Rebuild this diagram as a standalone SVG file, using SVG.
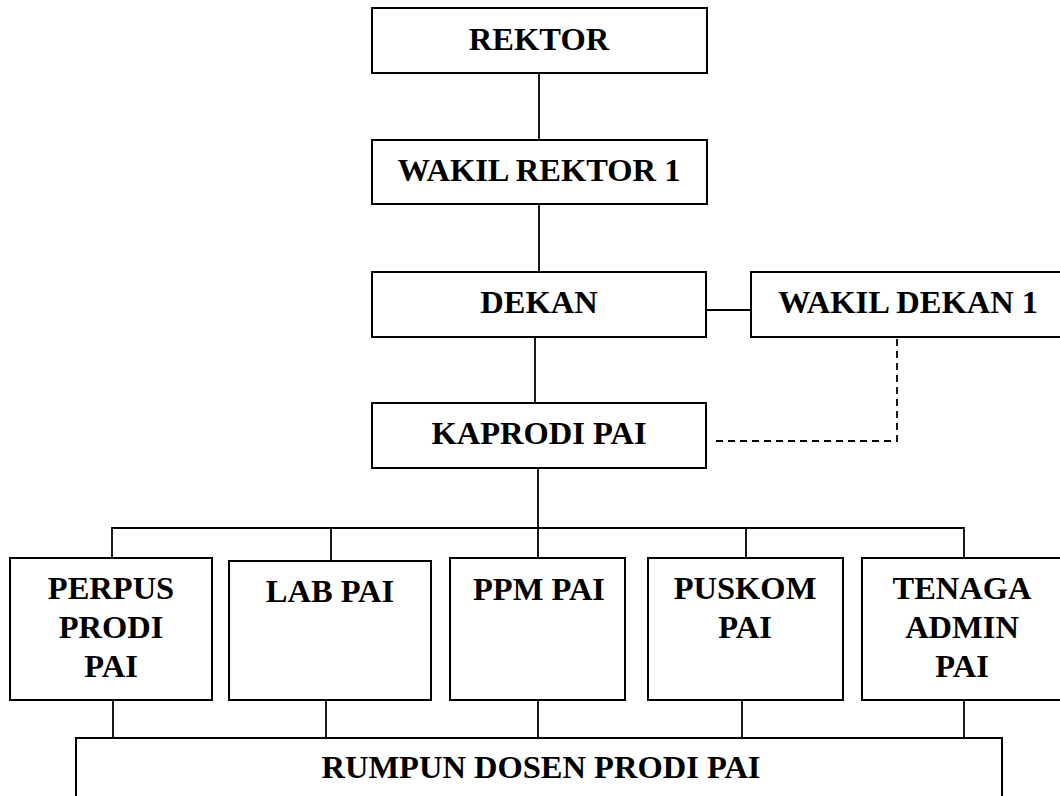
<svg xmlns="http://www.w3.org/2000/svg" width="1060" height="796" viewBox="0 0 1060 796">
<style>
.box{fill:#fff;stroke:#000;stroke-width:2}
.t{font-family:"Liberation Serif","Times New Roman",serif;font-weight:bold;font-size:32.5px;fill:#000;text-anchor:middle}
.c{fill:none;stroke:#000;stroke-width:1.8}
.d{fill:none;stroke:#000;stroke-width:1.8;stroke-dasharray:7,5}
</style>
<rect width="1060" height="796" fill="#fff"/>
<g id="connectors">
<line class="c" x1="539" y1="73" x2="539" y2="140"/>
<line class="c" x1="539" y1="204" x2="539" y2="272"/>
<line class="c" x1="706" y1="310" x2="751" y2="310"/>
<line class="c" x1="535" y1="337" x2="535" y2="403"/>
<polyline class="d" points="897,339 897,441 713,441"/>
<line class="d" x1="903" y1="337" x2="927" y2="337"/>
<line class="c" x1="538" y1="468" x2="538" y2="558"/>
<polyline class="c" points="112,558 112,528 964,528 964,558"/>
<line class="c" x1="331" y1="528" x2="331" y2="561"/>
<line class="c" x1="746" y1="528" x2="746" y2="558"/>
<line class="c" x1="113" y1="700" x2="113" y2="738"/>
<line class="c" x1="326" y1="700" x2="326" y2="738"/>
<line class="c" x1="538" y1="700" x2="538" y2="738"/>
<line class="c" x1="742" y1="700" x2="742" y2="738"/>
<line class="c" x1="964" y1="700" x2="964" y2="738"/>
</g>
<g id="rektor"><rect class="box" x="372" y="8" width="335" height="65"/><text class="t" x="539" y="50">REKTOR</text></g>
<g id="wakil-rektor-1"><rect class="box" x="372" y="140" width="335" height="64"/><text class="t" x="539" y="181">WAKIL REKTOR 1</text></g>
<g id="dekan"><rect class="box" x="372" y="272" width="334" height="65"/><text class="t" x="539" y="313">DEKAN</text></g>
<g id="wakil-dekan-1"><rect class="box" x="751" y="272" width="315" height="65"/><text class="t" x="908" y="313">WAKIL DEKAN 1</text></g>
<g id="kaprodi-pai"><rect class="box" x="372" y="403" width="334" height="65"/><text class="t" x="539" y="444">KAPRODI PAI</text></g>
<g id="perpus"><rect class="box" x="10" y="558" width="202" height="142"/><text class="t" x="111" y="599">PERPUS</text><text class="t" x="111" y="638">PRODI</text><text class="t" x="111" y="677">PAI</text></g>
<g id="lab-pai"><rect class="box" x="229" y="561" width="202" height="139"/><text class="t" x="330" y="602">LAB PAI</text></g>
<g id="ppm-pai"><rect class="box" x="450" y="558" width="175" height="142"/><text class="t" x="539" y="600">PPM PAI</text></g>
<g id="puskom-pai"><rect class="box" x="648" y="558" width="195" height="142"/><text class="t" x="745" y="599">PUSKOM</text><text class="t" x="745" y="638">PAI</text></g>
<g id="tenaga-admin-pai"><rect class="box" x="862" y="558" width="210" height="142"/><text class="t" x="962" y="599">TENAGA</text><text class="t" x="962" y="638">ADMIN</text><text class="t" x="962" y="677">PAI</text></g>
<g id="rumpun-dosen"><rect class="box" x="76" y="738" width="926" height="80"/><text class="t" x="541" y="778">RUMPUN DOSEN PRODI PAI</text></g>
</svg>
